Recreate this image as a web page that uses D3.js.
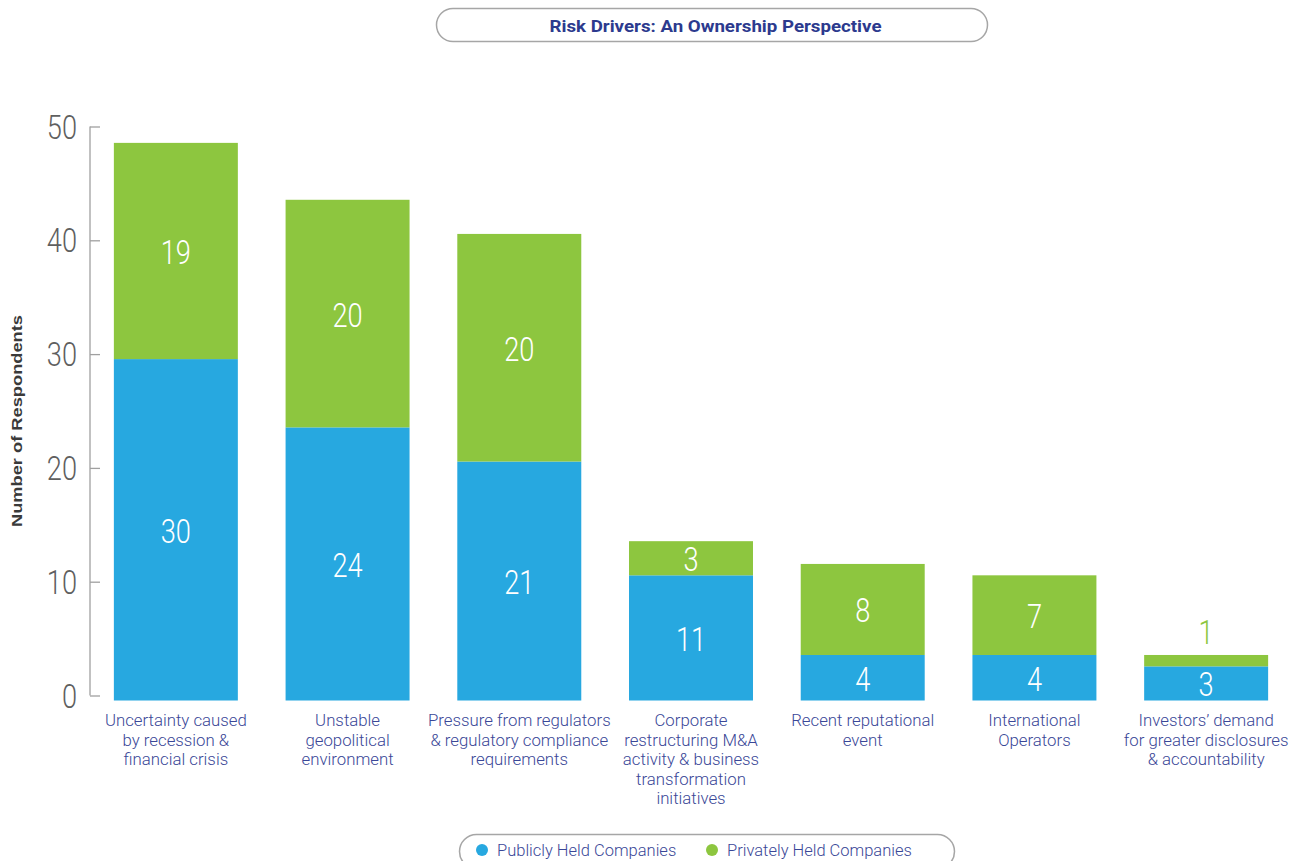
<!DOCTYPE html>
<html>
<head>
<meta charset="utf-8">
<script src="https://cdn.jsdelivr.net/npm/d3@7"></script>
<style>
  html, body { margin: 0; padding: 0; background: #ffffff; }
  svg { display: block; }
</style>
</head>
<body>
<svg id="chart" width="1310" height="861"></svg>
<script>
// Risk drivers by company ownership (number of respondents)
const categories = [
  ["Uncertainty caused", "by recession &", "financial crisis"],
  ["Unstable", "geopolitical", "environment"],
  ["Pressure from regulators", "& regulatory compliance", "requirements"],
  ["Corporate", "restructuring M&A", "activity & business", "transformation", "initiatives"],
  ["Recent reputational", "event"],
  ["International", "Operators"],
  ["Investors\u2019 demand", "for greater disclosures", "& accountability"]
];
const publicValues  = [30, 24, 21, 11, 4, 4, 3];
const privateValues = [19, 20, 20, 3, 8, 7, 1];
const seriesNames = ["Publicly Held Companies", "Privately Held Companies"];
const yTicks = [0, 10, 20, 30, 40, 50];
const titleText = "Risk Drivers: An Ownership Perspective";
const yTitle = "Number of Respondents";

const BLUE = "#27a8e0", GREEN = "#8dc63f", NAVY = "#3a4797", TITLE_NAVY = "#2c3a8e";

const svg = d3.select("#chart");

const x = d3.scaleBand()
  .domain(d3.range(categories.length))
  .range([90, 1292])
  .paddingInner(0.278)
  .paddingOuter(0.139);

// axis scale and the bar scale (bars sit a few pixels below the axis zero)
const y = d3.scaleLinear().domain([0, 50]).range([695.5, 126.5]);
const yBar = d3.scaleLinear().domain([0, 50]).range([700.5, 131.5]);

// horizontal squeeze/stretch of a text around its anchor point
function squeeze(sel, sx) {
  return sel.attr("transform", function () {
    const t = d3.select(this);
    return `translate(${t.attr("data-x")},${t.attr("data-y")}) scale(${sx},1)`;
  });
}

// ---- title pill ----
const title = svg.append("g");
title.append("rect")
  .attr("x", 436.5).attr("y", 8.5).attr("width", 551).attr("height", 33)
  .attr("rx", 16.5).attr("ry", 16.5)
  .attr("fill", "#fff").attr("stroke", "#a6a6a6").attr("stroke-width", 1.5);
title.append("text")
  .attr("data-x", 715.5).attr("data-y", 31.5)
  .attr("text-anchor", "middle")
  .attr("font-family", "Roboto, 'Noto Sans', sans-serif")
  .attr("font-weight", 700).attr("font-size", 17)
  .attr("fill", TITLE_NAVY)
  .text(titleText)
  .call(squeeze, 1.1);

// ---- y axis ----
const axis = svg.append("g").attr("transform", "translate(90,0)")
  .call(d3.axisRight(y).tickValues(yTicks).tickSize(10).tickFormat(""));
axis.select(".domain").attr("stroke", "#a0a0a0").attr("stroke-width", 1.3)
  .attr("d", `M0,${y(50)}V${y(0)}`);
axis.selectAll(".tick line").attr("stroke", "#a0a0a0").attr("stroke-width", 1.3);

svg.append("g").selectAll("text").data(yTicks).join("text")
  .attr("data-x", 77).attr("data-y", d => y(d) + 12)
  .attr("text-anchor", "end")
  .attr("font-family", "Roboto, sans-serif")
  .attr("font-weight", 300).attr("font-size", 34)
  .attr("fill", "#5f5f5f")
  .text(d => d)
  .call(squeeze, 0.8);

svg.append("text")
  .attr("transform", `translate(22,${(y(0) + y(50)) / 2 + 10}) rotate(-90)`)
  .attr("text-anchor", "middle")
  .attr("font-family", "'Liberation Sans', Arial, sans-serif")
  .attr("font-weight", 700).attr("font-size", 15)
  .attr("textLength", 212).attr("lengthAdjust", "spacingAndGlyphs")
  .attr("fill", "#3a3a3a")
  .text(yTitle);

// ---- stacked bars ----
const stackData = publicValues.map((p, i) => ({ i, pub: p, priv: privateValues[i] }));
const stacked = d3.stack().keys(["pub", "priv"])(stackData);
const colors = [BLUE, GREEN];

const bars = svg.append("g");
stacked.forEach((layer, k) => {
  bars.append("g").selectAll("rect").data(layer).join("rect")
    .attr("x", d => x(d.data.i))
    .attr("width", x.bandwidth())
    .attr("y", d => yBar(d[1]))
    .attr("height", d => yBar(d[0]) - yBar(d[1]))
    .attr("fill", colors[k]);
});

// ---- value labels ----
const labels = svg.append("g");
stacked.forEach((layer, k) => {
  labels.selectAll(null).data(layer).join("text")
    .attr("data-x", d => x(d.data.i) + x.bandwidth() / 2)
    .attr("data-y", d => {
      const v = d[1] - d[0];
      if (v < 2) return yBar(d[1]) - 11;
      return (yBar(d[0]) + yBar(d[1])) / 2 + 13;
    })
    .attr("text-anchor", "middle")
    .attr("font-family", "Roboto, sans-serif")
    .attr("font-weight", 300).attr("font-size", 34)
    .attr("fill", d => (d[1] - d[0] < 2 ? colors[k] : "#ffffff"))
    .text(d => d[1] - d[0])
    .call(squeeze, 0.8);
});

// ---- category labels ----
const cat = svg.append("g");
categories.forEach((lines, i) => {
  const t = cat.append("text")
    .attr("text-anchor", "middle")
    .attr("font-family", "Roboto, sans-serif")
    .attr("font-weight", 300).attr("font-size", 16.8)
    .attr("fill", NAVY);
  lines.forEach((ln, j) => {
    t.append("tspan")
      .attr("x", x(i) + x.bandwidth() / 2)
      .attr("y", 726 + j * 19.5)
      .text(ln);
  });
});

// ---- legend pill ----
const legend = svg.append("g");
legend.append("rect")
  .attr("x", 459.5).attr("y", 834.5).attr("width", 495).attr("height", 34)
  .attr("rx", 17).attr("ry", 17)
  .attr("fill", "#fff").attr("stroke", "#a6a6a6").attr("stroke-width", 1.5);
const legendX = [482, 712];
seriesNames.forEach((name, k) => {
  legend.append("circle")
    .attr("cx", legendX[k]).attr("cy", 850).attr("r", 6)
    .attr("fill", colors[k]);
  legend.append("text")
    .attr("x", legendX[k] + 15).attr("y", 856)
    .attr("font-family", "Roboto, sans-serif")
    .attr("font-weight", 300).attr("font-size", 16.5)
    .attr("fill", NAVY)
    .text(name);
});
</script>
</body>
</html>
